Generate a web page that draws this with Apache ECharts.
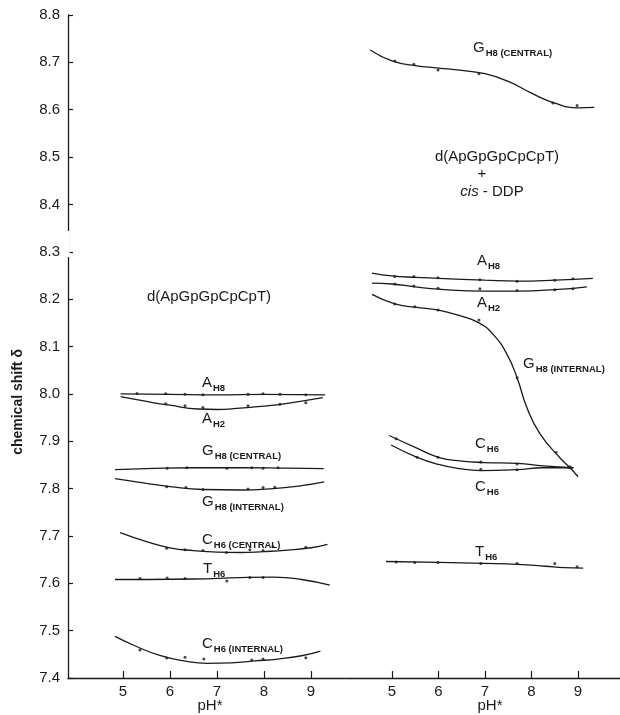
<!DOCTYPE html>
<html><head><meta charset="utf-8">
<script src="https://cdn.jsdelivr.net/npm/echarts@6/dist/echarts.min.js"></script>
<style>html,body{margin:0;padding:0;background:#fff}#c{width:620px;height:715px}</style>
</head><body><div id="c"></div>
<script>
// ---------- DATA (pH*, chemical shift ppm) ----------
// Left panel: d(ApGpGpCpCpT)
const L_AH8_fit = [[4.95,8.000],[6.0,7.999],[7.0,7.998],[8.0,7.999],[9.3,7.998]];
const L_AH8_pts = [[5.30,8.001],[5.91,8.000],[6.32,7.999],[6.70,7.998],[7.66,7.999],[7.98,8.000],[8.34,7.999],[8.89,7.998]];
const L_AH2_fit = [[4.95,7.994],[5.5,7.984],[6.0,7.976],[6.6,7.968],[7.0,7.967],[7.5,7.970],[8.0,7.974],[8.5,7.980],[9.25,7.992]];
const L_AH2_pts = [[5.91,7.979],[6.32,7.975],[6.70,7.971],[7.66,7.975],[8.34,7.978],[8.89,7.981]];
const L_GC_fit = [[4.83,7.840],[5.5,7.842],[6.5,7.844],[7.5,7.844],[8.5,7.843],[9.27,7.842]];
const L_GC_pts = [[5.94,7.843],[6.36,7.844],[7.21,7.843],[7.74,7.844],[7.98,7.843],[8.30,7.844]];
const L_GI_fit = [[4.83,7.821],[5.5,7.811],[6.0,7.804],[6.7,7.798],[7.5,7.797],[8.2,7.800],[8.8,7.806],[9.28,7.814]];
const L_GI_pts = [[5.93,7.804],[6.34,7.802],[6.70,7.798],[7.66,7.799],[7.98,7.802],[8.23,7.803]];
const L_CC_fit = [[4.94,7.707],[5.5,7.688],[6.0,7.675],[6.5,7.669],[7.0,7.666],[7.5,7.665],[8.0,7.667],[8.5,7.670],[9.0,7.675],[9.35,7.682]];
const L_CC_pts = [[5.93,7.674],[6.32,7.671],[6.70,7.669],[7.20,7.665],[7.70,7.671],[7.98,7.669],[8.19,7.677],[8.89,7.676]];
const L_T_fit = [[4.83,7.608],[5.5,7.608],[6.5,7.609],[7.5,7.612],[8.2,7.613],[8.8,7.608],[9.4,7.596]];
const L_T_pts = [[5.36,7.610],[5.94,7.611],[6.32,7.610],[7.21,7.605],[7.70,7.612],[7.98,7.612]];
const L_CI_fit = [[4.83,7.488],[5.3,7.466],[5.8,7.447],[6.3,7.436],[6.8,7.431],[7.3,7.432],[7.8,7.436],[8.3,7.440],[8.8,7.447],[9.2,7.457]];
const L_CI_pts = [[5.36,7.459],[5.93,7.442],[6.32,7.444],[6.72,7.440],[7.74,7.438],[7.98,7.440],[8.89,7.443]];
// Right panel: d(ApGpGpCpCpT) + cis-DDP
const R_GC_fit = [[4.53,8.726],[5.0,8.703],[5.5,8.693],[6.0,8.688],[6.5,8.683],[7.0,8.676],[7.5,8.660],[8.0,8.635],[8.5,8.614],[9.0,8.604],[9.35,8.605]];
const R_GC_pts = [[5.06,8.703],[5.47,8.696],[5.99,8.684],[6.87,8.676],[8.46,8.614],[8.98,8.609]];
const R_AH8_fit = [[4.57,8.255],[5.0,8.249],[5.5,8.246],[6.0,8.244],[7.0,8.240],[7.7,8.238],[8.5,8.240],[9.32,8.244]];
const R_AH8_pts = [[5.06,8.248],[5.47,8.248],[5.99,8.245],[6.89,8.241],[7.69,8.238],[8.50,8.240],[8.89,8.243]];
const R_AH2_fit = [[4.57,8.234],[5.0,8.232],[5.5,8.226],[6.0,8.221],[7.0,8.217],[7.7,8.217],[8.5,8.220],[9.19,8.226]];
const R_AH2_pts = [[5.06,8.232],[5.47,8.228],[5.99,8.223],[6.89,8.222],[7.69,8.218],[8.50,8.220],[8.89,8.222]];
const R_GI_fit = [[4.57,8.210],[5.06,8.190],[5.5,8.183],[6.0,8.177],[6.46,8.165],[6.87,8.150],[7.17,8.126],[7.47,8.084],[7.69,8.034],[7.9,7.971],[8.18,7.916],[8.61,7.865],[8.83,7.844],[9.0,7.825]];
const R_GI_pts = [[5.06,8.190],[5.49,8.184],[5.99,8.177],[6.87,8.156],[7.69,8.034],[8.53,7.876],[8.83,7.846]];
const R_C1_fit = [[4.94,7.912],[5.5,7.887],[6.0,7.866],[6.5,7.858],[7.0,7.855],[7.7,7.853],[8.25,7.848],[8.9,7.844]];
const R_C1_pts = [[5.09,7.905],[5.99,7.866],[6.91,7.856],[7.69,7.852],[8.80,7.845]];
const R_C2_fit = [[4.98,7.892],[5.54,7.866],[6.0,7.851],[6.46,7.842],[6.91,7.838],[7.69,7.840],[8.25,7.844],[8.9,7.844]];
const R_C2_pts = [[5.54,7.866],[6.91,7.841],[7.69,7.840]];
const R_T_fit = [[4.87,7.646],[6.0,7.644],[7.0,7.642],[7.7,7.640],[8.3,7.636],[8.7,7.633],[9.11,7.632]];
const R_T_pts = [[5.09,7.645],[5.49,7.644],[5.99,7.644],[6.91,7.642],[7.69,7.642],[8.50,7.642],[8.98,7.635]];

const xTicks = [5, 6, 7, 8, 9];
const yMin = 7.4, yMax = 8.8, yStep = 0.1;

// ---------- CHART ----------
const FONT = 'Liberation Sans, Arial, sans-serif';
const INK = '#1a1a1a';
function fit(idx, data) {
  return {type:'line', xAxisIndex:idx, yAxisIndex:idx, data:data, smooth:0.5, showSymbol:false,
    lineStyle:{color:INK, width:1.3}, silent:true, z:2};
}
function pts(idx, data) {
  return {type:'scatter', xAxisIndex:idx, yAxisIndex:idx, data:data, symbol:'circle', symbolSize:3,
    itemStyle:{color:INK}, silent:true, z:3};
}
function xAx(idx, min, max) {
  return {type:'value', gridIndex:idx, min:min, max:max,
    axisLine:{show:true, lineStyle:{color:INK, width:1.3}},
    axisTick:{show:true, inside:true, length:7, customValues:xTicks, lineStyle:{color:INK, width:1.2}},
    axisLabel:{customValues:xTicks, fontSize:15, color:INK, fontFamily:FONT, margin:6},
    splitLine:{show:false}};
}
function lab(x, y, main, sub) {
  return {type:'text', x:x, y:y, style:{
    text:'{m|' + main + '}' + (sub ? '{s|' + sub + '}' : ''),
    textVerticalAlign:'middle', textAlign:'left',
    rich:{m:{fontSize:15, fontFamily:FONT, fill:INK, color:INK, verticalAlign:'bottom', lineHeight:16},
          s:{fontSize:9.5, fontWeight:'bold', fontFamily:FONT, fill:INK, color:INK, verticalAlign:'bottom', lineHeight:16, padding:[0,0,-3,1]}}
  }};
}
function txt(x, y, t, extra) {
  return Object.assign({type:'text', x:x, y:y, style:{text:t, font:'15px ' + FONT, fill:INK,
    textAlign:'center', textVerticalAlign:'middle'}}, extra || {});
}

const chart = echarts.init(document.getElementById('c'), null, {renderer:'canvas'});
chart.setOption({
  animation:false,
  backgroundColor:'#fff',
  grid:[{left:68, top:15, width:282, bottom:37}, {left:350, top:15, width:270, bottom:37}],
  xAxis:[xAx(0, 3.83, 9.83), xAx(1, 4.097, 9.903)],
  yAxis:[
    {type:'value', gridIndex:0, min:yMin, max:yMax, interval:yStep,
     axisLine:{show:true, lineStyle:{color:INK, width:1.3}},
     axisTick:{show:true, inside:true, length:5, lineStyle:{color:INK, width:1.2}},
     axisLabel:{fontSize:15, color:INK, fontFamily:FONT, margin:8, formatter:v => v.toFixed(1)},
     splitLine:{show:false}},
    {type:'value', gridIndex:1, min:yMin, max:yMax, interval:yStep, show:false, splitLine:{show:false}}
  ],
  series:[
    fit(0,L_AH8_fit), pts(0,L_AH8_pts), fit(0,L_AH2_fit), pts(0,L_AH2_pts),
    fit(0,L_GC_fit), pts(0,L_GC_pts), fit(0,L_GI_fit), pts(0,L_GI_pts),
    fit(0,L_CC_fit), pts(0,L_CC_pts), fit(0,L_T_fit), pts(0,L_T_pts),
    fit(0,L_CI_fit), pts(0,L_CI_pts),
    fit(1,R_GC_fit), pts(1,R_GC_pts), fit(1,R_AH8_fit), pts(1,R_AH8_pts),
    fit(1,R_AH2_fit), pts(1,R_AH2_pts), fit(1,R_GI_fit), pts(1,R_GI_pts),
    fit(1,R_C1_fit), pts(1,R_C1_pts), fit(1,R_C2_fit), pts(1,R_C2_pts),
    fit(1,R_T_fit), pts(1,R_T_pts)
  ],
  graphic:[
    // axis break in the y-axis line between 8.3 and 8.4
    {type:'rect', shape:{x:66, y:231, width:3.6, height:26}, style:{fill:'#fff'}, z:100},
    {type:'text', x:18, y:402, rotation:Math.PI/2, style:{text:'chemical shift δ', font:'bold 14px ' + FONT,
      fill:INK, textAlign:'center', textVerticalAlign:'middle'}},
    txt(210, 706, 'pH*'), txt(490, 706, 'pH*'),
    txt(209, 297, 'd(ApGpGpCpCpT)'),
    txt(497, 157, 'd(ApGpGpCpCpT)'),
    txt(482, 174, '+'),
    {type:'text', x:492, y:192, style:{text:'{i|cis}{n| - DDP}', textAlign:'center', textVerticalAlign:'middle',
      rich:{i:{fontSize:15, fontStyle:'italic', fontFamily:FONT, fill:INK}, n:{fontSize:15, fontFamily:FONT, fill:INK}}}},
    lab(202, 382, 'A', 'H8'),
    lab(202, 418, 'A', 'H2'),
    lab(202, 450, 'G', 'H8 (CENTRAL)'),
    lab(202, 501, 'G', 'H8 (INTERNAL)'),
    lab(202, 539, 'C', 'H6 (CENTRAL)'),
    lab(203, 568, 'T', 'H6'),
    lab(202, 643, 'C', 'H6 (INTERNAL)'),
    lab(473, 47, 'G', 'H8 (CENTRAL)'),
    lab(477, 260, 'A', 'H8'),
    lab(477, 302, 'A', 'H2'),
    lab(523, 363, 'G', 'H8 (INTERNAL)'),
    lab(475, 443, 'C', 'H6'),
    lab(475, 486, 'C', 'H6'),
    lab(475, 551, 'T', 'H6')
  ]
});
</script></body></html>
